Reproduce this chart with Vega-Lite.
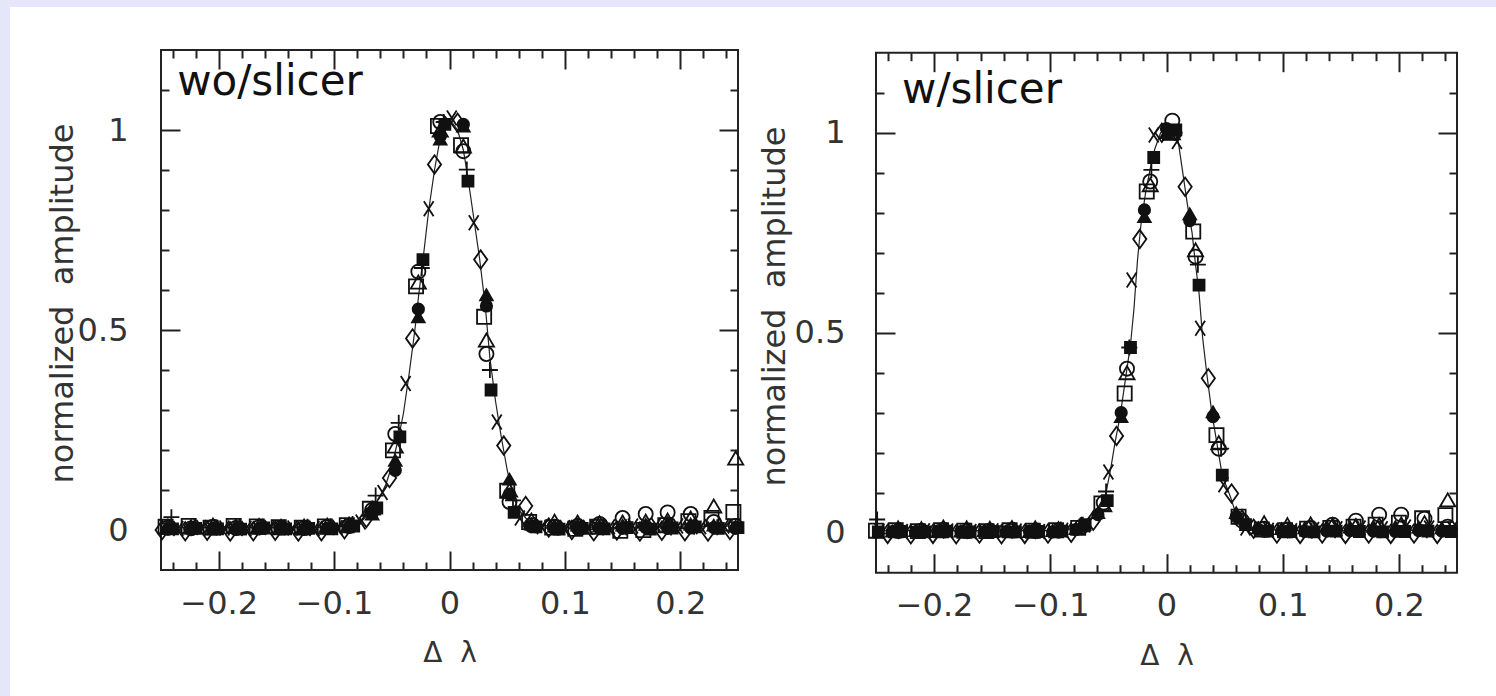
{
"$schema":"https://vega.github.io/schema/vega-lite/v6.json",
"background":"#e6e6fa",
"padding":{"left":10,"top":7,"right":0,"bottom":0},
"spacing":0,
"config":{"view":{"stroke":null,"fill":"white"},"axis":{"labelFont":"DejaVu Sans","titleFont":"DejaVu Sans","labelColor":"#333","titleColor":"#333","titleFontWeight":"normal","grid":false,"domain":false,"labelOverlap":false,"labelBound":false,"labelFlush":false}},
"datasets":{
"leftCurve":[{"x":-0.25,"y":0.006},{"x":-0.2,"y":0.006},{"x":-0.15,"y":0.006},{"x":-0.1,"y":0.007},{"x":-0.085,"y":0.012},{"x":-0.075,"y":0.025},{"x":-0.067,"y":0.05},{"x":-0.06,"y":0.085},{"x":-0.055,"y":0.115},{"x":-0.05,"y":0.16},{"x":-0.045,"y":0.22},{"x":-0.04,"y":0.29},{"x":-0.035,"y":0.39},{"x":-0.03,"y":0.5},{"x":-0.027,"y":0.58},{"x":-0.022,"y":0.7},{"x":-0.018,"y":0.8},{"x":-0.013,"y":0.9},{"x":-0.008,"y":0.98},{"x":-0.003,"y":1.01},{"x":0.002,"y":1.02},{"x":0.007,"y":1.0},{"x":0.012,"y":0.95},{"x":0.016,"y":0.88},{"x":0.021,"y":0.78},{"x":0.026,"y":0.68},{"x":0.031,"y":0.56},{"x":0.035,"y":0.43},{"x":0.04,"y":0.32},{"x":0.045,"y":0.23},{"x":0.05,"y":0.15},{"x":0.055,"y":0.085},{"x":0.06,"y":0.05},{"x":0.066,"y":0.03},{"x":0.075,"y":0.015},{"x":0.09,"y":0.008},{"x":0.15,"y":0.006},{"x":0.2,"y":0.008},{"x":0.25,"y":0.01}],
"rightCurve":[{"x":-0.25,"y":0.005},{"x":-0.2,"y":0.005},{"x":-0.15,"y":0.005},{"x":-0.1,"y":0.006},{"x":-0.08,"y":0.01},{"x":-0.07,"y":0.02},{"x":-0.062,"y":0.04},{"x":-0.056,"y":0.07},{"x":-0.052,"y":0.1},{"x":-0.048,"y":0.16},{"x":-0.044,"y":0.23},{"x":-0.04,"y":0.29},{"x":-0.037,"y":0.35},{"x":-0.034,"y":0.41},{"x":-0.031,"y":0.47},{"x":-0.028,"y":0.56},{"x":-0.025,"y":0.68},{"x":-0.022,"y":0.77},{"x":-0.018,"y":0.85},{"x":-0.014,"y":0.91},{"x":-0.01,"y":0.96},{"x":-0.005,"y":1.0},{"x":0.0,"y":1.01},{"x":0.005,"y":1.01},{"x":0.01,"y":0.98},{"x":0.014,"y":0.9},{"x":0.018,"y":0.82},{"x":0.022,"y":0.75},{"x":0.025,"y":0.67},{"x":0.028,"y":0.6},{"x":0.031,"y":0.49},{"x":0.035,"y":0.39},{"x":0.039,"y":0.3},{"x":0.043,"y":0.23},{"x":0.047,"y":0.16},{"x":0.051,"y":0.12},{"x":0.055,"y":0.09},{"x":0.06,"y":0.045},{"x":0.065,"y":0.02},{"x":0.075,"y":0.01},{"x":0.1,"y":0.006},{"x":0.15,"y":0.005},{"x":0.2,"y":0.006},{"x":0.25,"y":0.007}],
"left":[
{"s":"di","x":-0.249,"y":0.0},{"s":"di","x":-0.229,"y":-0.003},{"s":"di","x":-0.21,"y":-0.002},{"s":"di","x":-0.19,"y":-0.004},{"s":"di","x":-0.17,"y":-0.003},{"s":"di","x":-0.151,"y":-0.002},{"s":"di","x":-0.131,"y":-0.004},{"s":"di","x":-0.111,"y":-0.003},{"s":"di","x":-0.091,"y":0.002},{"s":"di","x":-0.072,"y":0.03},{"s":"di","x":-0.052,"y":0.13},{"s":"di","x":-0.032,"y":0.479},{"s":"di","x":-0.013,"y":0.914},{"s":"di","x":0.007,"y":1.018},{"s":"di","x":0.027,"y":0.676},{"s":"di","x":0.047,"y":0.211},{"s":"di","x":0.066,"y":0.06},{"s":"di","x":0.086,"y":0.006},{"s":"di","x":0.106,"y":0.0},{"s":"di","x":0.125,"y":-0.003},{"s":"di","x":0.145,"y":-0.001},{"s":"di","x":0.165,"y":-0.004},{"s":"di","x":0.184,"y":-0.002},{"s":"di","x":0.204,"y":-0.003},{"s":"di","x":0.224,"y":-0.004},{"s":"di","x":0.243,"y":0.0},
{"s":"cr","x":-0.235,"y":0.004},{"s":"cr","x":-0.215,"y":0.006},{"s":"cr","x":-0.195,"y":0.005},{"s":"cr","x":-0.176,"y":0.004},{"s":"cr","x":-0.156,"y":0.006},{"s":"cr","x":-0.136,"y":0.005},{"s":"cr","x":-0.117,"y":0.004},{"s":"cr","x":-0.097,"y":0.006},{"s":"cr","x":-0.077,"y":0.02},{"s":"cr","x":-0.058,"y":0.094},{"s":"cr","x":-0.038,"y":0.366},{"s":"cr","x":-0.018,"y":0.803},{"s":"cr","x":0.002,"y":1.03},{"s":"cr","x":0.021,"y":0.768},{"s":"cr","x":0.041,"y":0.27},{"s":"cr","x":0.061,"y":0.03},{"s":"cr","x":0.08,"y":0.008},{"s":"cr","x":0.1,"y":0.006},{"s":"cr","x":0.12,"y":0.007},{"s":"cr","x":0.139,"y":0.008},{"s":"cr","x":0.159,"y":0.01},{"s":"cr","x":0.179,"y":0.012},{"s":"cr","x":0.198,"y":0.01},{"s":"cr","x":0.218,"y":0.008},{"s":"cr","x":0.238,"y":0.01},
{"s":"fs","x":-0.24,"y":0.003},{"s":"fs","x":-0.22,"y":0.004},{"s":"fs","x":-0.201,"y":0.003},{"s":"fs","x":-0.181,"y":0.002},{"s":"fs","x":-0.161,"y":0.005},{"s":"fs","x":-0.142,"y":0.003},{"s":"fs","x":-0.122,"y":0.004},{"s":"fs","x":-0.102,"y":0.003},{"s":"fs","x":-0.083,"y":0.01},{"s":"fs","x":-0.063,"y":0.055},{"s":"fs","x":-0.043,"y":0.233},{"s":"fs","x":-0.023,"y":0.676},{"s":"fs","x":-0.004,"y":1.014},{"s":"fs","x":0.016,"y":0.872},{"s":"fs","x":0.036,"y":0.35},{"s":"fs","x":0.056,"y":0.044},{"s":"fs","x":0.075,"y":0.008},{"s":"fs","x":0.095,"y":0.002},{"s":"fs","x":0.115,"y":0.004},{"s":"fs","x":0.134,"y":0.003},{"s":"fs","x":0.154,"y":0.006},{"s":"fs","x":0.174,"y":0.002},{"s":"fs","x":0.193,"y":0.005},{"s":"fs","x":0.213,"y":0.008},{"s":"fs","x":0.233,"y":0.004},{"s":"fs","x":0.25,"y":0.006},
{"s":"fc","x":-0.244,"y":0.002},{"s":"fc","x":-0.224,"y":0.003},{"s":"fc","x":-0.205,"y":0.004},{"s":"fc","x":-0.185,"y":0.002},{"s":"fc","x":-0.165,"y":0.003},{"s":"fc","x":-0.146,"y":0.005},{"s":"fc","x":-0.126,"y":0.002},{"s":"fc","x":-0.106,"y":0.004},{"s":"fc","x":-0.087,"y":0.008},{"s":"fc","x":-0.067,"y":0.045},{"s":"fc","x":-0.047,"y":0.149},{"s":"fc","x":-0.027,"y":0.552},{"s":"fc","x":-0.008,"y":0.985},{"s":"fc","x":0.012,"y":1.014},{"s":"fc","x":0.032,"y":0.56},{"s":"fc","x":0.052,"y":0.09},{"s":"fc","x":0.071,"y":0.01},{"s":"fc","x":0.091,"y":0.004},{"s":"fc","x":0.111,"y":0.003},{"s":"fc","x":0.13,"y":0.005},{"s":"fc","x":0.15,"y":0.004},{"s":"fc","x":0.17,"y":0.006},{"s":"fc","x":0.189,"y":0.004},{"s":"fc","x":0.209,"y":0.005},{"s":"fc","x":0.229,"y":0.006},{"s":"fc","x":0.248,"y":0.004},
{"s":"ft","x":-0.244,"y":0.004},{"s":"ft","x":-0.224,"y":0.005},{"s":"ft","x":-0.205,"y":0.003},{"s":"ft","x":-0.185,"y":0.006},{"s":"ft","x":-0.165,"y":0.004},{"s":"ft","x":-0.146,"y":0.005},{"s":"ft","x":-0.126,"y":0.006},{"s":"ft","x":-0.106,"y":0.004},{"s":"ft","x":-0.087,"y":0.012},{"s":"ft","x":-0.067,"y":0.04},{"s":"ft","x":-0.047,"y":0.174},{"s":"ft","x":-0.027,"y":0.533},{"s":"ft","x":-0.008,"y":0.977},{"s":"ft","x":0.012,"y":1.01},{"s":"ft","x":0.032,"y":0.588},{"s":"ft","x":0.052,"y":0.127},{"s":"ft","x":0.071,"y":0.015},{"s":"ft","x":0.091,"y":0.01},{"s":"ft","x":0.111,"y":0.012},{"s":"ft","x":0.13,"y":0.01},{"s":"ft","x":0.15,"y":0.012},{"s":"ft","x":0.17,"y":0.014},{"s":"ft","x":0.189,"y":0.018},{"s":"ft","x":0.209,"y":0.015},{"s":"ft","x":0.229,"y":0.012},{"s":"ft","x":0.248,"y":0.01},
{"s":"os","x":-0.246,"y":0.008},{"s":"os","x":-0.226,"y":0.01},{"s":"os","x":-0.207,"y":0.006},{"s":"os","x":-0.187,"y":0.01},{"s":"os","x":-0.167,"y":0.009},{"s":"os","x":-0.148,"y":0.007},{"s":"os","x":-0.128,"y":0.006},{"s":"os","x":-0.108,"y":0.009},{"s":"os","x":-0.089,"y":0.012},{"s":"os","x":-0.069,"y":0.053},{"s":"os","x":-0.049,"y":0.199},{"s":"os","x":-0.029,"y":0.609},{"s":"os","x":-0.01,"y":1.01},{"s":"os","x":0.01,"y":0.962},{"s":"os","x":0.03,"y":0.533},{"s":"os","x":0.05,"y":0.098},{"s":"os","x":0.069,"y":0.02},{"s":"os","x":0.089,"y":0.006},{"s":"os","x":0.109,"y":0.003},{"s":"os","x":0.128,"y":0.008},{"s":"os","x":0.148,"y":-0.002},{"s":"os","x":0.168,"y":0.0},{"s":"os","x":0.187,"y":0.012},{"s":"os","x":0.207,"y":0.022},{"s":"os","x":0.227,"y":0.03},{"s":"os","x":0.246,"y":0.045},
{"s":"oc","x":-0.244,"y":0.006},{"s":"oc","x":-0.224,"y":0.004},{"s":"oc","x":-0.205,"y":0.008},{"s":"oc","x":-0.185,"y":0.005},{"s":"oc","x":-0.165,"y":0.007},{"s":"oc","x":-0.146,"y":0.006},{"s":"oc","x":-0.126,"y":0.005},{"s":"oc","x":-0.106,"y":0.008},{"s":"oc","x":-0.087,"y":0.01},{"s":"oc","x":-0.067,"y":0.05},{"s":"oc","x":-0.047,"y":0.24},{"s":"oc","x":-0.027,"y":0.646},{"s":"oc","x":-0.008,"y":1.02},{"s":"oc","x":0.012,"y":0.947},{"s":"oc","x":0.032,"y":0.44},{"s":"oc","x":0.052,"y":0.07},{"s":"oc","x":0.071,"y":0.012},{"s":"oc","x":0.091,"y":0.008},{"s":"oc","x":0.111,"y":0.01},{"s":"oc","x":0.13,"y":0.015},{"s":"oc","x":0.15,"y":0.03},{"s":"oc","x":0.17,"y":0.04},{"s":"oc","x":0.189,"y":0.044},{"s":"oc","x":0.209,"y":0.04},{"s":"oc","x":0.229,"y":0.02},{"s":"oc","x":0.248,"y":0.01},
{"s":"ot","x":-0.244,"y":0.01},{"s":"ot","x":-0.224,"y":0.008},{"s":"ot","x":-0.205,"y":0.012},{"s":"ot","x":-0.185,"y":0.01},{"s":"ot","x":-0.165,"y":0.011},{"s":"ot","x":-0.146,"y":0.009},{"s":"ot","x":-0.126,"y":0.01},{"s":"ot","x":-0.106,"y":0.012},{"s":"ot","x":-0.087,"y":0.015},{"s":"ot","x":-0.067,"y":0.055},{"s":"ot","x":-0.047,"y":0.21},{"s":"ot","x":-0.027,"y":0.62},{"s":"ot","x":-0.008,"y":1.0},{"s":"ot","x":0.012,"y":0.96},{"s":"ot","x":0.032,"y":0.475},{"s":"ot","x":0.052,"y":0.1},{"s":"ot","x":0.071,"y":0.025},{"s":"ot","x":0.091,"y":0.022},{"s":"ot","x":0.111,"y":0.02},{"s":"ot","x":0.13,"y":0.018},{"s":"ot","x":0.15,"y":0.02},{"s":"ot","x":0.17,"y":0.022},{"s":"ot","x":0.189,"y":0.025},{"s":"ot","x":0.209,"y":0.03},{"s":"ot","x":0.229,"y":0.06},{"s":"ot","x":0.248,"y":0.18},
{"s":"pl","x":-0.241,"y":0.032},{"s":"pl","x":-0.221,"y":0.008},{"s":"pl","x":-0.202,"y":0.006},{"s":"pl","x":-0.182,"y":0.01},{"s":"pl","x":-0.162,"y":0.008},{"s":"pl","x":-0.143,"y":0.006},{"s":"pl","x":-0.123,"y":0.008},{"s":"pl","x":-0.103,"y":0.009},{"s":"pl","x":-0.084,"y":0.015},{"s":"pl","x":-0.064,"y":0.086},{"s":"pl","x":-0.044,"y":0.268},{"s":"pl","x":-0.024,"y":0.655},{"s":"pl","x":-0.005,"y":1.02},{"s":"pl","x":0.015,"y":0.901},{"s":"pl","x":0.035,"y":0.4},{"s":"pl","x":0.055,"y":0.074},{"s":"pl","x":0.074,"y":0.012},{"s":"pl","x":0.094,"y":0.006},{"s":"pl","x":0.114,"y":0.008},{"s":"pl","x":0.133,"y":0.006},{"s":"pl","x":0.153,"y":0.007},{"s":"pl","x":0.173,"y":0.008},{"s":"pl","x":0.192,"y":0.006},{"s":"pl","x":0.212,"y":0.008},{"s":"pl","x":0.232,"y":0.007}
],
"right":[
{"s":"di","x":-0.24,"y":-0.003},{"s":"di","x":-0.22,"y":-0.004},{"s":"di","x":-0.201,"y":-0.003},{"s":"di","x":-0.181,"y":-0.004},{"s":"di","x":-0.161,"y":-0.002},{"s":"di","x":-0.142,"y":-0.004},{"s":"di","x":-0.122,"y":-0.003},{"s":"di","x":-0.102,"y":-0.002},{"s":"di","x":-0.082,"y":0.0},{"s":"di","x":-0.063,"y":0.03},{"s":"di","x":-0.043,"y":0.242},{"s":"di","x":-0.023,"y":0.734},{"s":"di","x":-0.004,"y":1.0},{"s":"di","x":0.016,"y":0.865},{"s":"di","x":0.036,"y":0.386},{"s":"di","x":0.056,"y":0.098},{"s":"di","x":0.075,"y":0.01},{"s":"di","x":0.095,"y":-0.002},{"s":"di","x":0.115,"y":-0.003},{"s":"di","x":0.134,"y":-0.002},{"s":"di","x":0.154,"y":-0.003},{"s":"di","x":0.174,"y":-0.002},{"s":"di","x":0.193,"y":-0.003},{"s":"di","x":0.213,"y":-0.002},{"s":"di","x":0.233,"y":-0.003},
{"s":"cr","x":-0.247,"y":0.004},{"s":"cr","x":-0.227,"y":0.003},{"s":"cr","x":-0.208,"y":0.005},{"s":"cr","x":-0.188,"y":0.004},{"s":"cr","x":-0.168,"y":0.003},{"s":"cr","x":-0.149,"y":0.005},{"s":"cr","x":-0.129,"y":0.004},{"s":"cr","x":-0.109,"y":0.003},{"s":"cr","x":-0.089,"y":0.006},{"s":"cr","x":-0.07,"y":0.02},{"s":"cr","x":-0.05,"y":0.152},{"s":"cr","x":-0.03,"y":0.632},{"s":"cr","x":-0.011,"y":0.994},{"s":"cr","x":0.009,"y":0.978},{"s":"cr","x":0.029,"y":0.511},{"s":"cr","x":0.049,"y":0.12},{"s":"cr","x":0.068,"y":0.012},{"s":"cr","x":0.088,"y":0.006},{"s":"cr","x":0.108,"y":0.005},{"s":"cr","x":0.127,"y":0.008},{"s":"cr","x":0.147,"y":0.01},{"s":"cr","x":0.167,"y":0.012},{"s":"cr","x":0.186,"y":0.01},{"s":"cr","x":0.206,"y":0.014},{"s":"cr","x":0.226,"y":0.012},{"s":"cr","x":0.246,"y":0.01},
{"s":"fs","x":-0.248,"y":0.002},{"s":"fs","x":-0.228,"y":0.003},{"s":"fs","x":-0.208,"y":0.002},{"s":"fs","x":-0.189,"y":0.004},{"s":"fs","x":-0.169,"y":0.002},{"s":"fs","x":-0.149,"y":0.003},{"s":"fs","x":-0.13,"y":0.002},{"s":"fs","x":-0.11,"y":0.003},{"s":"fs","x":-0.09,"y":0.004},{"s":"fs","x":-0.07,"y":0.02},{"s":"fs","x":-0.051,"y":0.08},{"s":"fs","x":-0.031,"y":0.463},{"s":"fs","x":-0.011,"y":0.938},{"s":"fs","x":0.008,"y":1.007},{"s":"fs","x":0.028,"y":0.619},{"s":"fs","x":0.048,"y":0.144},{"s":"fs","x":0.068,"y":0.02},{"s":"fs","x":0.087,"y":0.004},{"s":"fs","x":0.107,"y":0.003},{"s":"fs","x":0.127,"y":0.002},{"s":"fs","x":0.146,"y":0.004},{"s":"fs","x":0.166,"y":0.003},{"s":"fs","x":0.186,"y":0.002},{"s":"fs","x":0.205,"y":0.003},{"s":"fs","x":0.225,"y":0.004},{"s":"fs","x":0.245,"y":0.003},
{"s":"fc","x":-0.236,"y":0.003},{"s":"fc","x":-0.216,"y":0.002},{"s":"fc","x":-0.197,"y":0.004},{"s":"fc","x":-0.177,"y":0.003},{"s":"fc","x":-0.157,"y":0.002},{"s":"fc","x":-0.138,"y":0.003},{"s":"fc","x":-0.118,"y":0.004},{"s":"fc","x":-0.098,"y":0.002},{"s":"fc","x":-0.078,"y":0.008},{"s":"fc","x":-0.059,"y":0.045},{"s":"fc","x":-0.039,"y":0.3},{"s":"fc","x":-0.019,"y":0.807},{"s":"fc","x":0.0,"y":1.01},{"s":"fc","x":0.02,"y":0.78},{"s":"fc","x":0.04,"y":0.29},{"s":"fc","x":0.06,"y":0.04},{"s":"fc","x":0.079,"y":0.008},{"s":"fc","x":0.099,"y":0.004},{"s":"fc","x":0.119,"y":0.003},{"s":"fc","x":0.138,"y":0.004},{"s":"fc","x":0.158,"y":0.005},{"s":"fc","x":0.178,"y":0.004},{"s":"fc","x":0.197,"y":0.003},{"s":"fc","x":0.217,"y":0.005},{"s":"fc","x":0.237,"y":0.004},
{"s":"ft","x":-0.236,"y":0.004},{"s":"ft","x":-0.216,"y":0.005},{"s":"ft","x":-0.197,"y":0.003},{"s":"ft","x":-0.177,"y":0.004},{"s":"ft","x":-0.157,"y":0.005},{"s":"ft","x":-0.138,"y":0.004},{"s":"ft","x":-0.118,"y":0.003},{"s":"ft","x":-0.098,"y":0.005},{"s":"ft","x":-0.078,"y":0.01},{"s":"ft","x":-0.059,"y":0.05},{"s":"ft","x":-0.039,"y":0.29},{"s":"ft","x":-0.019,"y":0.79},{"s":"ft","x":0.0,"y":1.0},{"s":"ft","x":0.02,"y":0.797},{"s":"ft","x":0.04,"y":0.302},{"s":"ft","x":0.06,"y":0.05},{"s":"ft","x":0.079,"y":0.012},{"s":"ft","x":0.099,"y":0.01},{"s":"ft","x":0.119,"y":0.012},{"s":"ft","x":0.138,"y":0.015},{"s":"ft","x":0.158,"y":0.014},{"s":"ft","x":0.178,"y":0.016},{"s":"ft","x":0.197,"y":0.015},{"s":"ft","x":0.217,"y":0.014},{"s":"ft","x":0.237,"y":0.012},
{"s":"os","x":-0.25,"y":0.005},{"s":"os","x":-0.233,"y":0.006},{"s":"os","x":-0.214,"y":0.004},{"s":"os","x":-0.194,"y":0.006},{"s":"os","x":-0.174,"y":0.005},{"s":"os","x":-0.155,"y":0.004},{"s":"os","x":-0.135,"y":0.006},{"s":"os","x":-0.115,"y":0.005},{"s":"os","x":-0.095,"y":0.006},{"s":"os","x":-0.076,"y":0.012},{"s":"os","x":-0.056,"y":0.073},{"s":"os","x":-0.036,"y":0.348},{"s":"os","x":-0.017,"y":0.853},{"s":"os","x":0.003,"y":1.0},{"s":"os","x":0.023,"y":0.753},{"s":"os","x":0.043,"y":0.244},{"s":"os","x":0.062,"y":0.04},{"s":"os","x":0.082,"y":0.008},{"s":"os","x":0.102,"y":0.006},{"s":"os","x":0.121,"y":0.01},{"s":"os","x":0.141,"y":0.012},{"s":"os","x":0.161,"y":0.015},{"s":"os","x":0.18,"y":0.02},{"s":"os","x":0.2,"y":0.025},{"s":"os","x":0.22,"y":0.036},{"s":"os","x":0.24,"y":0.044},
{"s":"oc","x":-0.231,"y":0.004},{"s":"oc","x":-0.211,"y":0.005},{"s":"oc","x":-0.192,"y":0.006},{"s":"oc","x":-0.172,"y":0.004},{"s":"oc","x":-0.152,"y":0.005},{"s":"oc","x":-0.133,"y":0.006},{"s":"oc","x":-0.113,"y":0.004},{"s":"oc","x":-0.093,"y":0.005},{"s":"oc","x":-0.073,"y":0.015},{"s":"oc","x":-0.054,"y":0.075},{"s":"oc","x":-0.034,"y":0.41},{"s":"oc","x":-0.014,"y":0.878},{"s":"oc","x":0.005,"y":1.03},{"s":"oc","x":0.025,"y":0.69},{"s":"oc","x":0.045,"y":0.21},{"s":"oc","x":0.065,"y":0.03},{"s":"oc","x":0.084,"y":0.01},{"s":"oc","x":0.104,"y":0.008},{"s":"oc","x":0.124,"y":0.012},{"s":"oc","x":0.143,"y":0.02},{"s":"oc","x":0.163,"y":0.03},{"s":"oc","x":0.183,"y":0.045},{"s":"oc","x":0.202,"y":0.045},{"s":"oc","x":0.222,"y":0.035},{"s":"oc","x":0.242,"y":0.015},
{"s":"ot","x":-0.231,"y":0.012},{"s":"ot","x":-0.211,"y":0.01},{"s":"ot","x":-0.192,"y":0.014},{"s":"ot","x":-0.172,"y":0.012},{"s":"ot","x":-0.152,"y":0.011},{"s":"ot","x":-0.133,"y":0.013},{"s":"ot","x":-0.113,"y":0.012},{"s":"ot","x":-0.093,"y":0.01},{"s":"ot","x":-0.073,"y":0.02},{"s":"ot","x":-0.054,"y":0.07},{"s":"ot","x":-0.034,"y":0.4},{"s":"ot","x":-0.014,"y":0.87},{"s":"ot","x":0.005,"y":1.0},{"s":"ot","x":0.025,"y":0.707},{"s":"ot","x":0.045,"y":0.225},{"s":"ot","x":0.065,"y":0.04},{"s":"ot","x":0.084,"y":0.025},{"s":"ot","x":0.104,"y":0.02},{"s":"ot","x":0.124,"y":0.022},{"s":"ot","x":0.143,"y":0.02},{"s":"ot","x":0.163,"y":0.018},{"s":"ot","x":0.183,"y":0.02},{"s":"ot","x":0.202,"y":0.022},{"s":"ot","x":0.222,"y":0.025},{"s":"ot","x":0.242,"y":0.082},
{"s":"pl","x":-0.249,"y":0.033},{"s":"pl","x":-0.229,"y":0.006},{"s":"pl","x":-0.21,"y":0.004},{"s":"pl","x":-0.19,"y":0.006},{"s":"pl","x":-0.17,"y":0.005},{"s":"pl","x":-0.151,"y":0.004},{"s":"pl","x":-0.131,"y":0.006},{"s":"pl","x":-0.111,"y":0.005},{"s":"pl","x":-0.091,"y":0.008},{"s":"pl","x":-0.072,"y":0.02},{"s":"pl","x":-0.052,"y":0.103},{"s":"pl","x":-0.032,"y":0.463},{"s":"pl","x":-0.013,"y":0.907},{"s":"pl","x":0.007,"y":1.0},{"s":"pl","x":0.027,"y":0.67},{"s":"pl","x":0.047,"y":0.21},{"s":"pl","x":0.066,"y":0.03},{"s":"pl","x":0.086,"y":0.008},{"s":"pl","x":0.106,"y":0.006},{"s":"pl","x":0.125,"y":0.005},{"s":"pl","x":0.145,"y":0.006},{"s":"pl","x":0.165,"y":0.008},{"s":"pl","x":0.184,"y":0.006},{"s":"pl","x":0.204,"y":0.007},{"s":"pl","x":0.224,"y":0.006},{"s":"pl","x":0.244,"y":0.008}
]
},
"hconcat":[
{
"width":742,"height":689,
"layer":[
{"data":{"values":[{}]},"mark":{"type":"rect","filled":false,"stroke":"#222","strokeWidth":2},
"encoding":{
"x":{"datum":-0.25,"type":"quantitative","scale":{"domain":[-0.38085,0.26213],"nice":false,"zero":false},
"axis":{"orient":"top","offset":-43,"values":[-0.24,-0.22,-0.2,-0.18,-0.16,-0.14,-0.12,-0.1,-0.08,-0.06,-0.04,-0.02,0,0.02,0.04,0.06,0.08,0.1,0.12,0.14,0.16,0.18,0.2,0.22,0.24],"labels":false,"title":null,"ticks":true,"tickColor":"#222","tickWidth":2,"tickSize":{"condition":{"test":"abs(datum.value*10-round(datum.value*10))<0.001","value":-19},"value":-8}}},
"x2":{"datum":0.25},
"y":{"datum":-0.1,"type":"quantitative","scale":{"domain":[-0.415,1.3075],"nice":false,"zero":false},
"axis":{"orient":"right","offset":-14,"values":[0,0.1,0.2,0.3,0.4,0.5,0.6,0.7,0.8,0.9,1,1.1],"labels":false,"title":null,"ticks":true,"tickColor":"#222","tickWidth":2,"tickSize":{"condition":{"test":"abs(datum.value*2-round(datum.value*2))<0.001","value":-19},"value":-8}}},
"y2":{"datum":1.2}}},
{"data":{"name":"leftCurve"},"mark":{"type":"line","color":"#222","strokeWidth":1.2},
"encoding":{
"x":{"field":"x","type":"quantitative","scale":{"domain":[-0.38085,0.26213],"nice":false,"zero":false},
"axis":{"orient":"bottom","offset":-126,"values":[-0.24,-0.22,-0.2,-0.18,-0.16,-0.14,-0.12,-0.1,-0.08,-0.06,-0.04,-0.02,0,0.02,0.04,0.06,0.08,0.1,0.12,0.14,0.16,0.18,0.2,0.22,0.24],"labels":false,"title":null,"ticks":true,"tickColor":"#222","tickWidth":2,"tickSize":{"condition":{"test":"abs(datum.value*10-round(datum.value*10))<0.001","value":-19},"value":-8}}},
"y":{"field":"y","type":"quantitative","scale":{"domain":[-0.415,1.3075],"nice":false,"zero":false},
"axis":{"orient":"left","offset":-151,"values":[0,0.1,0.2,0.3,0.4,0.5,0.6,0.7,0.8,0.9,1,1.1],"labels":false,"title":null,"ticks":true,"tickColor":"#222","tickWidth":2,"tickSize":{"condition":{"test":"abs(datum.value*2-round(datum.value*2))<0.001","value":-19},"value":-8}}}}},
{"data":{"name":"left"},"mark":{"type":"point","stroke":"#111","strokeWidth":1.8,"opacity":1},
"encoding":{
"x":{"field":"x","type":"quantitative","scale":{"domain":[-0.38085,0.26213],"nice":false,"zero":false},
"axis":{"orient":"bottom","offset":-126,"values":[-0.2,-0.1,0,0.1,0.2],"format":"~g","ticks":false,"labelPadding":18,"labelFontSize":32,"title":"Δ\u00a0\u00a0λ","titleFontSize":28,"titleX":439.5,"titleY":91.5,"titleBaseline":"alphabetic","titleAlign":"center"}},
"y":{"field":"y","type":"quantitative","scale":{"domain":[-0.415,1.3075],"nice":false,"zero":false},
"axis":{"orient":"left","offset":-151,"values":[0,0.5,1],"format":"~g","ticks":false,"labelPadding":33,"labelFontSize":32,"title":"normalized\u00a0\u00a0amplitude","titleFontSize":32,"titleAngle":-90,"titleX":-89,"titleY":296,"titleBaseline":"alphabetic","titleAlign":"center"}},
"shape":{"field":"s","type":"nominal","legend":null,"scale":{"domain":["oc","fc","os","fs","ot","ft","pl","cr","di"],"range":["circle","circle","square","square","triangle-up","triangle-up","M-1,0L1,0M0,-1L0,1","M-0.65,-1L0.65,1M0.65,-1L-0.65,1","M0,-1L0.72,0L0,1L-0.72,0Z"]}},
"fill":{"field":"s","type":"nominal","legend":null,"scale":{"domain":["oc","fc","os","fs","ot","ft","pl","cr","di"],"range":["transparent","#111","transparent","#111","transparent","#111","transparent","transparent","transparent"]}},
"size":{"field":"s","type":"nominal","legend":null,"scale":{"type":"ordinal","domain":["oc","fc","os","fs","ot","ft","pl","cr","di"],"range":[200,130,200,121,230,160,256,225,340]}}}},
{"data":{"values":[{"label":"wo/slicer"}]},"mark":{"type":"text","align":"left","baseline":"alphabetic","font":"DejaVu Sans","fontSize":42,"color":"#111"},
"encoding":{
"x":{"datum":-0.236,"type":"quantitative","scale":{"domain":[-0.38085,0.26213],"nice":false,"zero":false},"axis":null},
"y":{"datum":1.0875,"type":"quantitative","scale":{"domain":[-0.415,1.3075],"nice":false,"zero":false},"axis":null},
"text":{"field":"label"}}}
],
"resolve":{"axis":{"x":"independent","y":"independent"}}
},
{
"width":744,"height":689,
"layer":[
{"data":{"values":[{}]},"mark":{"type":"rect","filled":false,"stroke":"#222","strokeWidth":2},
"encoding":{
"x":{"datum":-0.25,"type":"quantitative","scale":{"domain":[-0.35671,0.28356],"nice":false,"zero":false},
"axis":{"orient":"top","offset":-45.7,"values":[-0.24,-0.22,-0.2,-0.18,-0.16,-0.14,-0.12,-0.1,-0.08,-0.06,-0.04,-0.02,0,0.02,0.04,0.06,0.08,0.1,0.12,0.14,0.16,0.18,0.2,0.22,0.24],"labels":false,"title":null,"ticks":true,"tickColor":"#222","tickWidth":2,"tickSize":{"condition":{"test":"abs(datum.value*10-round(datum.value*10))<0.001","value":-19},"value":-8}}},
"x2":{"datum":0.25},
"y":{"datum":-0.1,"type":"quantitative","scale":{"domain":[-0.40825,1.31425],"nice":false,"zero":false},
"axis":{"orient":"right","offset":-39,"values":[0,0.1,0.2,0.3,0.4,0.5,0.6,0.7,0.8,0.9,1,1.1],"labels":false,"title":null,"ticks":true,"tickColor":"#222","tickWidth":2,"tickSize":{"condition":{"test":"abs(datum.value*2-round(datum.value*2))<0.001","value":-19},"value":-8}}},
"y2":{"datum":1.2}}},
{"data":{"name":"rightCurve"},"mark":{"type":"line","color":"#222","strokeWidth":1.2},
"encoding":{
"x":{"field":"x","type":"quantitative","scale":{"domain":[-0.35671,0.28356],"nice":false,"zero":false},
"axis":{"orient":"bottom","offset":-123.3,"values":[-0.24,-0.22,-0.2,-0.18,-0.16,-0.14,-0.12,-0.1,-0.08,-0.06,-0.04,-0.02,0,0.02,0.04,0.06,0.08,0.1,0.12,0.14,0.16,0.18,0.2,0.22,0.24],"labels":false,"title":null,"ticks":true,"tickColor":"#222","tickWidth":2,"tickSize":{"condition":{"test":"abs(datum.value*10-round(datum.value*10))<0.001","value":-19},"value":-8}}},
"y":{"field":"y","type":"quantitative","scale":{"domain":[-0.40825,1.31425],"nice":false,"zero":false},
"axis":{"orient":"left","offset":-124,"values":[0,0.1,0.2,0.3,0.4,0.5,0.6,0.7,0.8,0.9,1,1.1],"labels":false,"title":null,"ticks":true,"tickColor":"#222","tickWidth":2,"tickSize":{"condition":{"test":"abs(datum.value*2-round(datum.value*2))<0.001","value":-19},"value":-8}}}}},
{"data":{"name":"right"},"mark":{"type":"point","stroke":"#111","strokeWidth":1.8,"opacity":1},
"encoding":{
"x":{"field":"x","type":"quantitative","scale":{"domain":[-0.35671,0.28356],"nice":false,"zero":false},
"axis":{"orient":"bottom","offset":-123.3,"values":[-0.2,-0.1,0,0.1,0.2],"format":"~g","ticks":false,"labelPadding":18,"labelFontSize":32,"title":"Δ\u00a0\u00a0λ","titleFontSize":28,"titleX":414.5,"titleY":91.5,"titleBaseline":"alphabetic","titleAlign":"center"}},
"y":{"field":"y","type":"quantitative","scale":{"domain":[-0.40825,1.31425],"nice":false,"zero":false},
"axis":{"orient":"left","offset":-124,"values":[0,0.5,1],"format":"~g","ticks":false,"labelPadding":31,"labelFontSize":32,"title":"normalized\u00a0\u00a0amplitude","titleFontSize":32,"titleAngle":-90,"titleX":-92,"titleY":299,"titleBaseline":"alphabetic","titleAlign":"center"}},
"shape":{"field":"s","type":"nominal","legend":null,"scale":{"domain":["oc","fc","os","fs","ot","ft","pl","cr","di"],"range":["circle","circle","square","square","triangle-up","triangle-up","M-1,0L1,0M0,-1L0,1","M-0.65,-1L0.65,1M0.65,-1L-0.65,1","M0,-1L0.72,0L0,1L-0.72,0Z"]}},
"fill":{"field":"s","type":"nominal","legend":null,"scale":{"domain":["oc","fc","os","fs","ot","ft","pl","cr","di"],"range":["transparent","#111","transparent","#111","transparent","#111","transparent","transparent","transparent"]}},
"size":{"field":"s","type":"nominal","legend":null,"scale":{"type":"ordinal","domain":["oc","fc","os","fs","ot","ft","pl","cr","di"],"range":[200,130,200,121,230,160,256,225,340]}}}},
{"data":{"values":[{"label":"w/slicer"}]},"mark":{"type":"text","align":"left","baseline":"alphabetic","font":"DejaVu Sans","fontSize":42,"color":"#111"},
"encoding":{
"x":{"datum":-0.2276,"type":"quantitative","scale":{"domain":[-0.35671,0.28356],"nice":false,"zero":false},"axis":null},
"y":{"datum":1.074,"type":"quantitative","scale":{"domain":[-0.40825,1.31425],"nice":false,"zero":false},"axis":null},
"text":{"field":"label"}}}
],
"resolve":{"axis":{"x":"independent","y":"independent"}}
}
]
}
